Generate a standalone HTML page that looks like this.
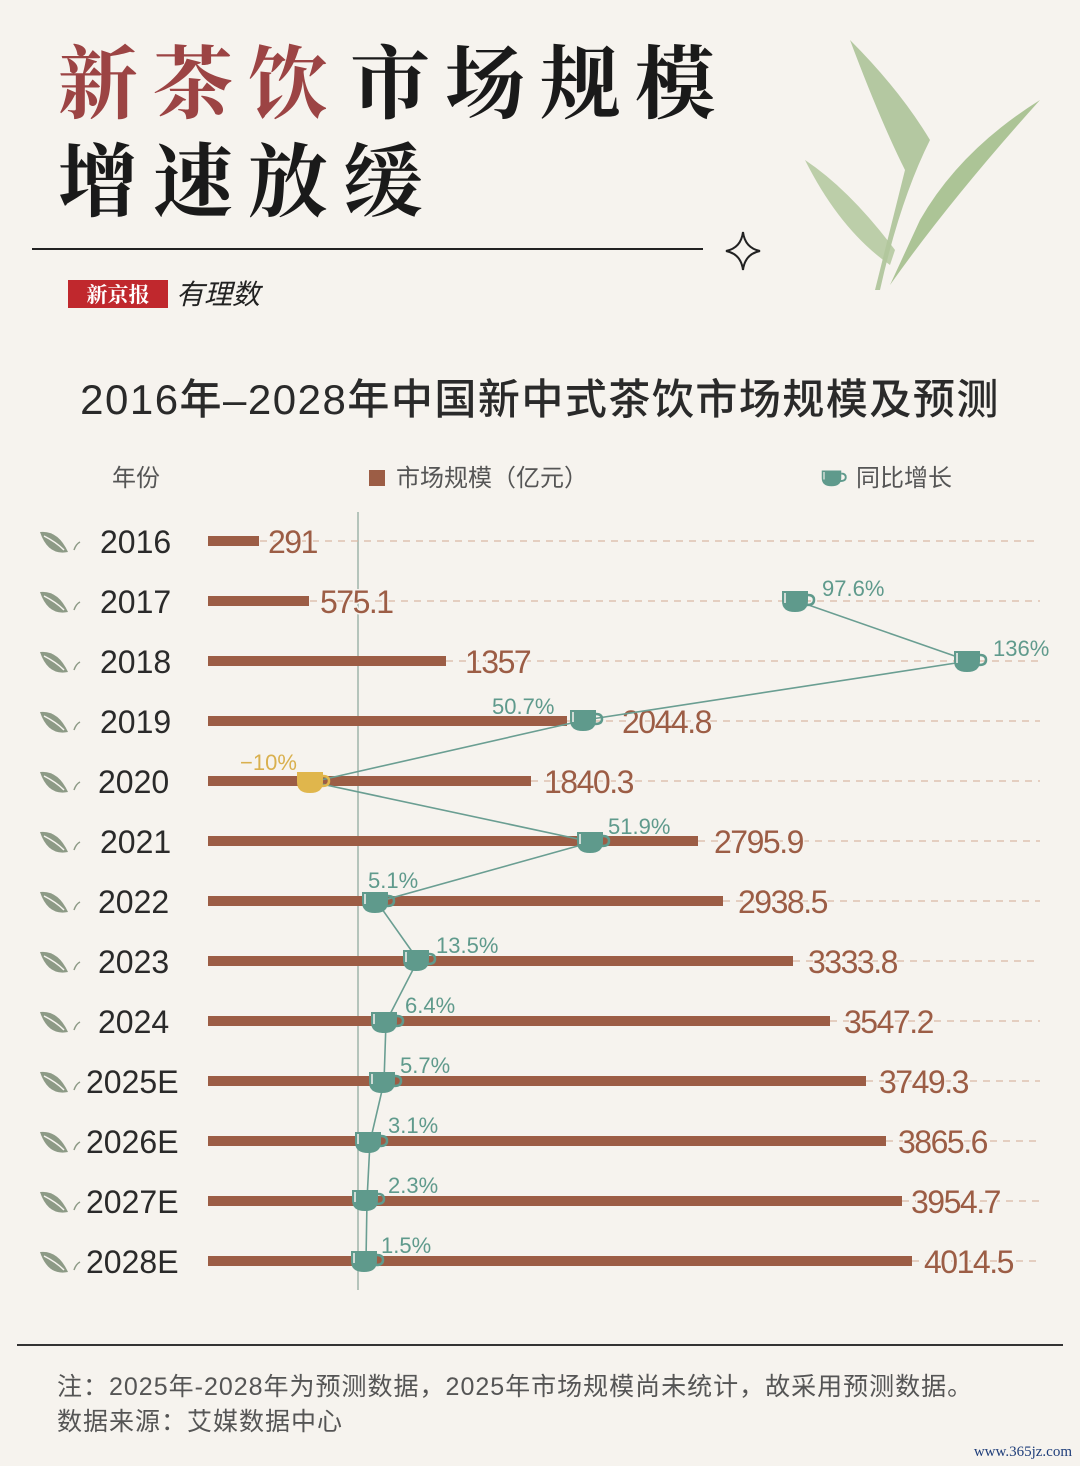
<!DOCTYPE html>
<html><head><meta charset="utf-8"><style>
html,body{margin:0;padding:0;background:#f6f3ee}
svg{display:block}
</style></head><body>
<svg width="1080" height="1466" viewBox="0 0 1080 1466" xmlns="http://www.w3.org/2000/svg" font-family="Liberation Sans, Noto Sans CJK SC, sans-serif">
<defs>
<g id="cup"><path d="M-15,-10 H11 V0 Q11,11 -2,11 Q-15,11 -15,0 Z" fill="#5f9a8c"/><path d="M11,-6 Q17,-6 17,-1 Q17,4 10,4" fill="none" stroke="#5f9a8c" stroke-width="2.5"/><path d="M-12,-8 V2" stroke="#f6f3ee" stroke-width="1.5"/></g>
<g id="cupy"><path d="M-15,-10 H11 V0 Q11,11 -2,11 Q-15,11 -15,0 Z" fill="#e0b64c"/><path d="M11,-6 Q17,-6 17,-1 Q17,4 10,4" fill="none" stroke="#e0b64c" stroke-width="2.5"/></g>
<g id="leaf"><path d="M-14,-12 Q4,-14 14,8 Q-6,12 -14,-12 Z" fill="#8d9a86"/><path d="M-10,-8 Q2,-2 10,6" stroke="#f6f3ee" stroke-width="1.5" fill="none"/><path d="M20,6 Q22,0 26,-2" stroke="#8d9a86" stroke-width="1.5" fill="none"/></g>
</defs>
<rect width="1080" height="1466" fill="#f6f3ee"/>
<!-- title -->
<text x="58" y="112" font-size="80" letter-spacing="15" font-family="Noto Serif CJK SC, serif" font-weight="700" fill="#9c4444">新茶饮</text>
<text x="350" y="112" font-size="80" letter-spacing="15" font-family="Noto Serif CJK SC, serif" font-weight="700" fill="#1a1a1a">市场规模</text>
<text x="58" y="210" font-size="80" letter-spacing="15" font-family="Noto Serif CJK SC, serif" font-weight="700" fill="#1a1a1a">增速放缓</text>
<line x1="32" y1="249" x2="703" y2="249" stroke="#222" stroke-width="2"/>
<path d="M743,232 Q745,248 760,251 Q745,254 743,270 Q741,254 726,251 Q741,248 743,232 Z" fill="none" stroke="#222" stroke-width="2"/>
<!-- tea leaves -->
<path d="M880,290 Q900,200 930,140 Q900,90 850,40 Q880,120 905,170 Q890,230 875,290 Z" fill="#a8c093" opacity="0.85"/>
<path d="M890,285 Q950,200 1040,100 Q960,150 920,220 Z" fill="#9fbb86" opacity="0.85"/>
<path d="M895,250 Q850,190 805,160 Q840,230 890,265 Z" fill="#b2c79c" opacity="0.85"/>
<!-- logo -->
<rect x="68" y="280" width="100" height="28" fill="#c0282d"/>
<text x="118" y="302" font-size="21" fill="#fff" text-anchor="middle" font-family="Noto Serif CJK SC, serif" font-weight="700">新京报</text>
<text x="176" y="304" font-size="28" fill="#222" font-style="italic" font-family="Noto Sans CJK SC, sans-serif">有理数</text>
<!-- chart title -->
<text x="540" y="414" font-size="42" letter-spacing="1.5" fill="#2a2a2a" text-anchor="middle" font-family="Liberation Sans, Noto Sans CJK SC, sans-serif" font-weight="500">2016年–2028年中国新中式茶饮市场规模及预测</text>
<text x="112" y="486" font-size="24" fill="#555" font-family="Noto Sans CJK SC, sans-serif">年份</text>
<rect x="369" y="470" width="16" height="16" fill="#9c5d45"/>
<text x="396" y="486" font-size="24" fill="#555" font-family="Noto Sans CJK SC, sans-serif">市场规模（亿元）</text>
<use href="#cup" transform="translate(833,478) scale(0.75)"/>
<text x="856" y="486" font-size="24" fill="#555" font-family="Noto Sans CJK SC, sans-serif">同比增长</text>
<line x1="358" y1="512" x2="358" y2="1290" stroke="#9fb5aa" stroke-width="1.5"/>
<g stroke="#d9b8a4" stroke-width="1.2" stroke-dasharray="7,6">
<line x1="260" y1="541" x2="1040" y2="541"/><line x1="310" y1="601" x2="1040" y2="601"/>
<line x1="446" y1="661" x2="1040" y2="661"/><line x1="567" y1="721" x2="1040" y2="721"/>
<line x1="531" y1="781" x2="1040" y2="781"/><line x1="698" y1="841" x2="1040" y2="841"/>
<line x1="723" y1="901" x2="1040" y2="901"/><line x1="793" y1="961" x2="1040" y2="961"/>
<line x1="830" y1="1021" x2="1040" y2="1021"/><line x1="866" y1="1081" x2="1040" y2="1081"/>
<line x1="886" y1="1141" x2="1040" y2="1141"/><line x1="902" y1="1201" x2="1040" y2="1201"/>
<line x1="912" y1="1261" x2="1040" y2="1261"/>
</g>
<g fill="#9c5d45">
<rect x="208" y="536" width="51" height="10"/><rect x="208" y="596" width="101" height="10"/>
<rect x="208" y="656" width="238" height="10"/><rect x="208" y="716" width="359" height="10"/>
<rect x="208" y="776" width="323" height="10"/><rect x="208" y="836" width="490" height="10"/>
<rect x="208" y="896" width="515" height="10"/><rect x="208" y="956" width="585" height="10"/>
<rect x="208" y="1016" width="622" height="10"/><rect x="208" y="1076" width="658" height="10"/>
<rect x="208" y="1136" width="678" height="10"/><rect x="208" y="1196" width="694" height="10"/>
<rect x="208" y="1256" width="704" height="10"/>
</g>
<g font-size="32" fill="#9c5d45" letter-spacing="-1.5" stroke="#f6f3ee" stroke-width="3" paint-order="stroke">
<text x="268" y="553">291</text><text x="320" y="613">575.1</text><text x="465" y="673">1357</text>
<text x="622" y="733">2044.8</text><text x="544" y="793">1840.3</text><text x="714" y="853">2795.9</text>
<text x="738" y="913">2938.5</text><text x="808" y="973">3333.8</text><text x="844" y="1033">3547.2</text>
<text x="879" y="1093">3749.3</text><text x="898" y="1153">3865.6</text><text x="911" y="1213">3954.7</text>
<text x="924" y="1273">4014.5</text>
</g>
<g font-size="32" fill="#2a2a2a">
<text x="100" y="553">2016</text><text x="100" y="613">2017</text><text x="100" y="673">2018</text>
<text x="100" y="733">2019</text><text x="98" y="793">2020</text><text x="100" y="853">2021</text>
<text x="98" y="913">2022</text><text x="98" y="973">2023</text><text x="98" y="1033">2024</text>
<text x="86" y="1093">2025E</text><text x="86" y="1153">2026E</text><text x="86" y="1213">2027E</text>
<text x="86" y="1273">2028E</text>
</g>
<g>
<use href="#leaf" x="54" y="544"/><use href="#leaf" x="54" y="604"/><use href="#leaf" x="54" y="664"/>
<use href="#leaf" x="54" y="724"/><use href="#leaf" x="54" y="784"/><use href="#leaf" x="54" y="844"/>
<use href="#leaf" x="54" y="904"/><use href="#leaf" x="54" y="964"/><use href="#leaf" x="54" y="1024"/>
<use href="#leaf" x="54" y="1084"/><use href="#leaf" x="54" y="1144"/><use href="#leaf" x="54" y="1204"/>
<use href="#leaf" x="54" y="1264"/>
</g>
<polyline points="797,601 969,661 585,720 312,782 592,842 377,902 418,960 386,1022 384,1082 370,1142 367,1200 366,1261" fill="none" stroke="#6a9e92" stroke-width="1.6"/>
<g>
<use href="#cup" x="797" y="601"/><use href="#cup" x="969" y="661"/><use href="#cup" x="585" y="720"/>
<use href="#cupy" x="312" y="782"/><use href="#cup" x="592" y="842"/><use href="#cup" x="377" y="902"/>
<use href="#cup" x="418" y="960"/><use href="#cup" x="386" y="1022"/><use href="#cup" x="384" y="1082"/>
<use href="#cup" x="370" y="1142"/><use href="#cup" x="367" y="1200"/><use href="#cup" x="366" y="1261"/>
</g>
<g font-size="22" fill="#5f9a8c">
<text x="822" y="596">97.6%</text><text x="993" y="656">136%</text><text x="492" y="714">50.7%</text>
<text x="608" y="834">51.9%</text><text x="368" y="888">5.1%</text><text x="436" y="953">13.5%</text>
<text x="405" y="1013">6.4%</text><text x="400" y="1073">5.7%</text><text x="388" y="1133">3.1%</text>
<text x="388" y="1193">2.3%</text><text x="381" y="1253">1.5%</text>
</g>
<text x="240" y="770" font-size="22" fill="#d9b04e">−10%</text>
<!-- footer -->
<line x1="17" y1="1345" x2="1063" y2="1345" stroke="#333" stroke-width="2"/>
<text x="57" y="1395" font-size="25" letter-spacing="1" fill="#555" font-family="Liberation Sans, Noto Sans CJK SC, sans-serif">注：2025年-2028年为预测数据，2025年市场规模尚未统计，故采用预测数据。</text>
<text x="57" y="1430" font-size="25" letter-spacing="1" fill="#555" font-family="Noto Sans CJK SC, sans-serif">数据来源：艾媒数据中心</text>
<text x="1072" y="1456" font-size="15" fill="#1f3e7a" text-anchor="end" font-family="Liberation Serif, serif">www.365jz.com</text>
</svg>
</body></html>
